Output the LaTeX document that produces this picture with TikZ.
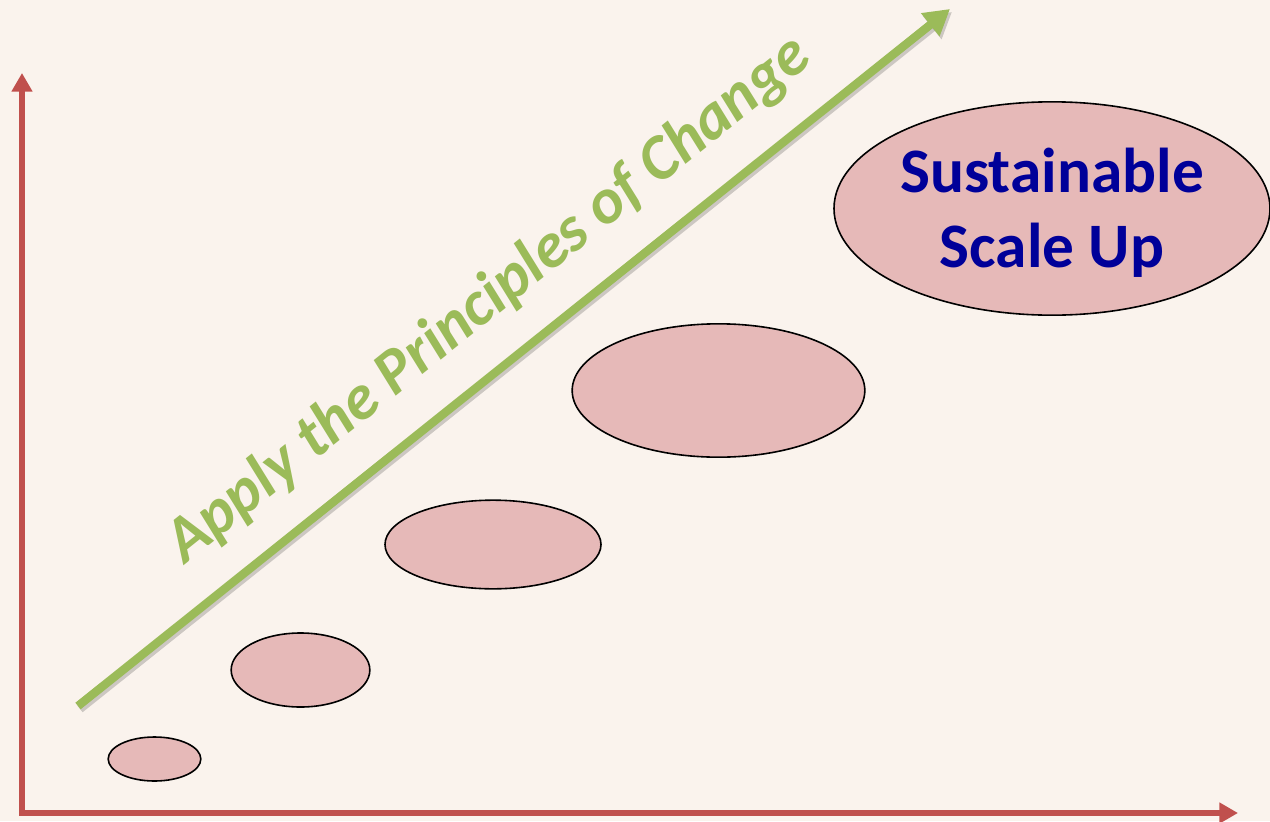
\documentclass[tikz,border=0pt]{standalone}
\usepackage{fontspec}
\setmainfont{Carlito}
\usetikzlibrary{arrows.meta, shapes.geometric, positioning}

\definecolor{axisred}{RGB}{192,80,77}
\definecolor{leafgreen}{RGB}{155,187,89}
\definecolor{blobpink}{RGB}{230,185,184}
\definecolor{titleblue}{RGB}{0,0,153}
\definecolor{paper}{RGB}{250,243,237}

\begin{document}
\begin{tikzpicture}[x=0.75pt, y=-0.75pt,
  axis/.style={draw=axisred, line width=5pt, -{Triangle[length=14pt 0, width=15pt 0]}},
  trend/.style={draw=leafgreen, line width=6.3pt, -{Triangle[length=19pt 0, width=21pt 0]}},
  stage/.style={ellipse, draw=black, fill=blobpink, line width=1.2pt, inner sep=0pt},
  trendlabel/.style={font=\fontsize{48}{54}\selectfont\bfseries\itshape, text=leafgreen, inner sep=0pt},
  goallabel/.style={font=\fontsize{47.5}{56}\selectfont\bfseries, text=titleblue, align=center, inner sep=0pt},
]

% page and background
\fill[paper] (0,0) rectangle (1270,821);
\useasboundingbox (0,0) rectangle (1270,821);

% axes
\coordinate (origin) at (22,813);
\coordinate (ytop)   at (22,73);
\coordinate (xend)   at (1238,813);
\draw[axis, line cap=rect] (origin) -- (ytop);
\draw[axis] (origin) -- (xend);

% growth arrow, with a soft shadow
\coordinate (tstart) at (78,706);
\coordinate (tend)   at (950,9);
\draw[trend, draw=black, opacity=0.18, transform canvas={xshift=1.5pt, yshift=-2.2pt}] (tstart) -- (tend);
\draw[trend] (tstart) -- (tend);
\node[trendlabel, rotate=38.66] (principles) at (489,300) {Apply the Principles of Change};

% stages, small to large
\node[stage, minimum width=69.5pt, minimum height=33pt]   (s1) at (154.5,759) {};
\node[stage, minimum width=104pt,  minimum height=55.5pt] (s2) at (300.5,670) {};
\node[stage, minimum width=162pt,  minimum height=66.5pt] (s3) at (493,544.5) {};
\node[stage, minimum width=219.5pt, minimum height=100pt] (s4) at (718.5,390.5) {};
\node[stage, minimum width=327pt,  minimum height=160pt]  (s5) at (1052,208.5) {};
\node[goallabel] (goal) at (1052,213) {Sustainable\\Scale Up};

\end{tikzpicture}
\end{document}
